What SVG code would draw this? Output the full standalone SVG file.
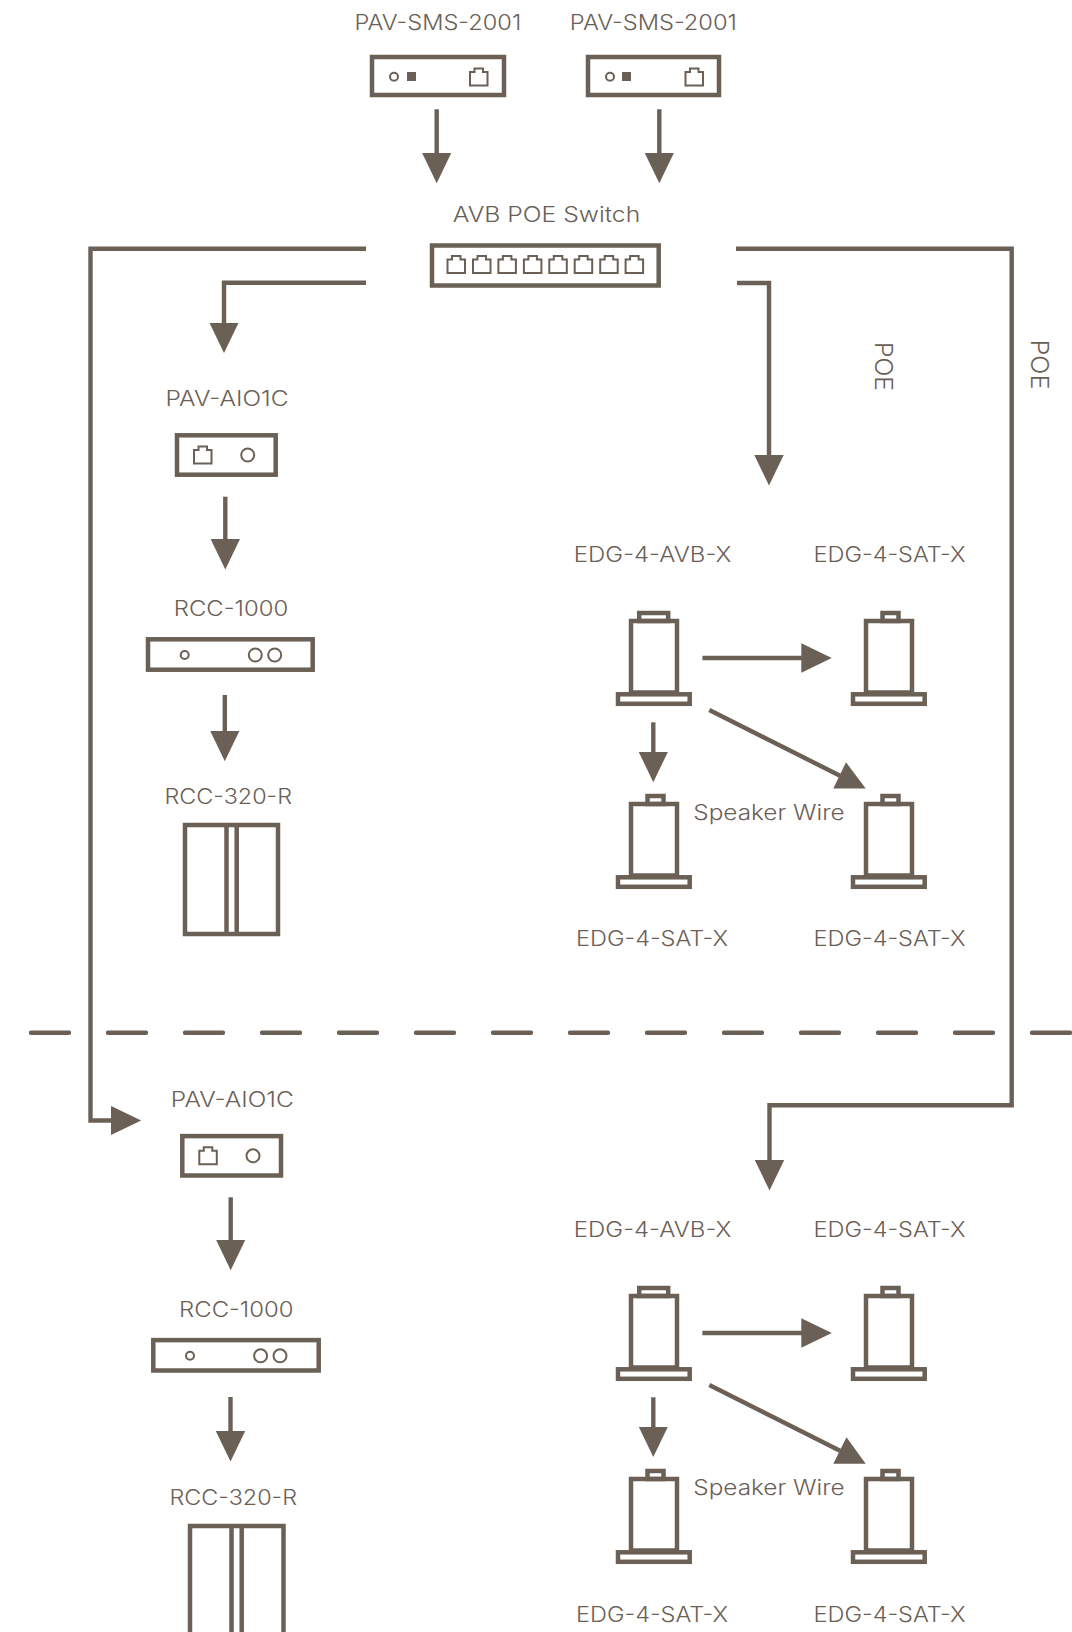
<svg xmlns="http://www.w3.org/2000/svg" width="1072" height="1632" viewBox="0 0 1072 1632">
<style>
text{font-family:Inter,"Liberation Sans",sans-serif;font-weight:300;font-size:21px;fill:#6b6056}
.poe{font-size:24px}
.s{fill:none;stroke:#6b6056;stroke-width:4.500}
.t{fill:none;stroke:#6b6056;stroke-width:2}
.c{fill:none;stroke:#6b6056;stroke-width:4.400}
.f{fill:#6b6056}
</style>
<defs>
<marker id="ah" markerUnits="userSpaceOnUse" markerWidth="32" markerHeight="30" viewBox="0 0 32 30" refX="1" refY="15" orient="auto"><path d="M0 0.300L30.500 15L0 29.700Z" fill="#6b6056"/></marker>
<path id="port" d="M1 4.500H5.500V1H14V4.500H18.500V18H1Z" class="t"/>
<g id="spk-body"><rect x="631" y="621" width="46" height="71.500" class="s"/><rect x="618" y="694.300" width="71.700" height="9.500" class="s"/></g>
<g id="cap-w"><rect x="639.200" y="613" width="29" height="8" class="s"/></g>
<g id="cap-n"><rect x="647.500" y="613" width="16" height="8" class="s"/></g>
</defs>
<g id="connectors">
<path class="c" marker-end="url(#ah)" d="M436.700 109.300V153.700"/>
<path class="c" marker-end="url(#ah)" d="M659.300 109.300V153.700"/>
<path class="c" marker-end="url(#ah)" d="M366 282.800H224V323.500"/>
<path class="c" marker-end="url(#ah)" d="M737 283H769V456"/>
<path class="c" marker-end="url(#ah)" d="M366 248.800H90.500V1120.500H111.700"/>
<path class="c" marker-end="url(#ah)" d="M736 248.800H1011.700V1105.300H769.500V1161"/>
<path class="c" marker-end="url(#ah)" d="M225.300 496.700V540"/>
<path class="c" marker-end="url(#ah)" d="M224.800 695V731.700"/>
<path class="c" marker-end="url(#ah)" d="M230.700 1197.300V1240.700"/>
<path class="c" marker-end="url(#ah)" d="M230.500 1397V1432"/>
<path class="c" marker-end="url(#ah)" d="M702.400 658H802.300"/>
<path class="c" marker-end="url(#ah)" d="M653.300 722.300V752.700"/>
<path class="c" d="M709.300 710L840 775.700"/>
<polygon class="f" points="846,762.300 865.700,788.500 833.300,788.500"/>
<path class="c" marker-end="url(#ah)" d="M702.400 1333H802.300"/>
<path class="c" marker-end="url(#ah)" d="M653.300 1397.300V1427.500"/>
<path class="c" d="M709.300 1385L840 1450.700"/>
<polygon class="f" points="846.500,1437.300 865.700,1463.700 833.300,1463.700"/>
<path class="c" d="M31 1032.800H1072" stroke-dasharray="38 39" stroke-linecap="round"/>
</g>
<g id="sms-1"><text x="354.500" y="30" textLength="166.700" lengthAdjust="spacingAndGlyphs">PAV-SMS-2001</text><rect x="372" y="57" width="132" height="38" class="s"/><circle cx="394" cy="76.700" r="4" class="t"/><rect x="407" y="72" width="9" height="9" class="f"/><use href="#port" x="469" y="67.500"/></g>
<g id="sms-2"><text x="569.800" y="30" textLength="167.100" lengthAdjust="spacingAndGlyphs">PAV-SMS-2001</text><rect x="588" y="57" width="131" height="38" class="s"/><circle cx="610" cy="76.700" r="4" class="t"/><rect x="622" y="72" width="9" height="9" class="f"/><use href="#port" x="684.500" y="67.500"/></g>
<g id="switch"><text x="452.800" y="221.700" textLength="187.400" lengthAdjust="spacingAndGlyphs">AVB POE Switch</text><rect x="432" y="245.500" width="226.700" height="40" class="s"/><use href="#port" x="446.500" y="255"/><use href="#port" x="472" y="255"/><use href="#port" x="497.400" y="255"/><use href="#port" x="522.900" y="255"/><use href="#port" x="548.300" y="255"/><use href="#port" x="573.700" y="255"/><use href="#port" x="599.200" y="255"/><use href="#port" x="624.600" y="255"/></g>
<g id="aio-1"><text x="165.500" y="406" textLength="123" lengthAdjust="spacingAndGlyphs">PAV-AIO1C</text><rect x="177" y="435.300" width="98.700" height="39.400" class="s"/><use href="#port" x="193" y="445.500"/><circle cx="247.700" cy="455" r="6.500" class="t"/></g>
<g id="rcc-1"><text x="173.800" y="616" textLength="114.400" lengthAdjust="spacingAndGlyphs">RCC-1000</text><rect x="148" y="639.300" width="164.700" height="30.400" class="s"/><circle cx="184.700" cy="655" r="4" class="t"/><circle cx="255.300" cy="655" r="6.500" class="t"/><circle cx="274.700" cy="655" r="6.500" class="t"/></g>
<g id="r320-1"><text x="164.500" y="803.700" textLength="127.500" lengthAdjust="spacingAndGlyphs">RCC-320-R</text><rect x="185" y="825" width="93" height="109" class="s"/><path class="s" d="M226.500 825V934M236.700 825V934"/></g>
<g id="aio-2" transform="translate(5.300 700.800)"><text x="165.500" y="406" textLength="123" lengthAdjust="spacingAndGlyphs">PAV-AIO1C</text><rect x="177" y="435.300" width="98.700" height="39.400" class="s"/><use href="#port" x="193" y="445.500"/><circle cx="247.700" cy="455" r="6.500" class="t"/></g>
<g id="rcc-2" transform="translate(5.300 700.800)"><text x="173.800" y="616" textLength="114.400" lengthAdjust="spacingAndGlyphs">RCC-1000</text><rect x="148" y="639.300" width="165.400" height="30.400" class="s"/><circle cx="184.700" cy="655" r="4" class="t"/><circle cx="255.300" cy="655" r="6.500" class="t"/><circle cx="274.700" cy="655" r="6.500" class="t"/></g>
<g id="r320-2" transform="translate(5 701)"><text x="164.500" y="803.700" textLength="127.500" lengthAdjust="spacingAndGlyphs">RCC-320-R</text><rect x="185" y="825" width="93.500" height="109" class="s"/><path class="s" d="M226.500 825V934M236.700 825V934"/></g>
<g id="edg-avb-1"><text x="573.800" y="562" textLength="157.500" lengthAdjust="spacingAndGlyphs">EDG-4-AVB-X</text><use href="#spk-body"/><use href="#cap-w"/></g>
<g id="edg-sat-1"><text x="813.500" y="562" textLength="152" lengthAdjust="spacingAndGlyphs">EDG-4-SAT-X</text><g transform="translate(235 0)"><use href="#spk-body"/><use href="#cap-n"/></g></g>
<g id="edg-sat-2"><text x="576" y="946" textLength="152" lengthAdjust="spacingAndGlyphs">EDG-4-SAT-X</text><g transform="translate(0 183)"><use href="#spk-body"/><use href="#cap-n"/></g></g>
<g id="edg-sat-3"><text x="813.500" y="946" textLength="152" lengthAdjust="spacingAndGlyphs">EDG-4-SAT-X</text><g transform="translate(235 183)"><use href="#spk-body"/><use href="#cap-n"/></g></g>
<text x="693.300" y="820" textLength="151.400" lengthAdjust="spacingAndGlyphs">Speaker Wire</text>
<g id="edg-avb-2"><text x="573.800" y="1236.700" textLength="157.500" lengthAdjust="spacingAndGlyphs">EDG-4-AVB-X</text><g transform="translate(0 675)"><use href="#spk-body"/><use href="#cap-w"/></g></g>
<g id="edg-sat-4"><text x="813.500" y="1236.700" textLength="152" lengthAdjust="spacingAndGlyphs">EDG-4-SAT-X</text><g transform="translate(235 675)"><use href="#spk-body"/><use href="#cap-n"/></g></g>
<g id="edg-sat-5"><text x="576" y="1621.500" textLength="152" lengthAdjust="spacingAndGlyphs">EDG-4-SAT-X</text><g transform="translate(0 858)"><use href="#spk-body"/><use href="#cap-n"/></g></g>
<g id="edg-sat-6"><text x="813.500" y="1621.500" textLength="152" lengthAdjust="spacingAndGlyphs">EDG-4-SAT-X</text><g transform="translate(235 858)"><use href="#spk-body"/><use href="#cap-n"/></g></g>
<text x="693.300" y="1495.400" textLength="151.400" lengthAdjust="spacingAndGlyphs">Speaker Wire</text>
<text class="poe" transform="translate(875 342) rotate(90)" textLength="49" lengthAdjust="spacingAndGlyphs">POE</text>
<text class="poe" transform="translate(1030.700 339.500) rotate(90)" textLength="50" lengthAdjust="spacingAndGlyphs">POE</text>
</svg>
